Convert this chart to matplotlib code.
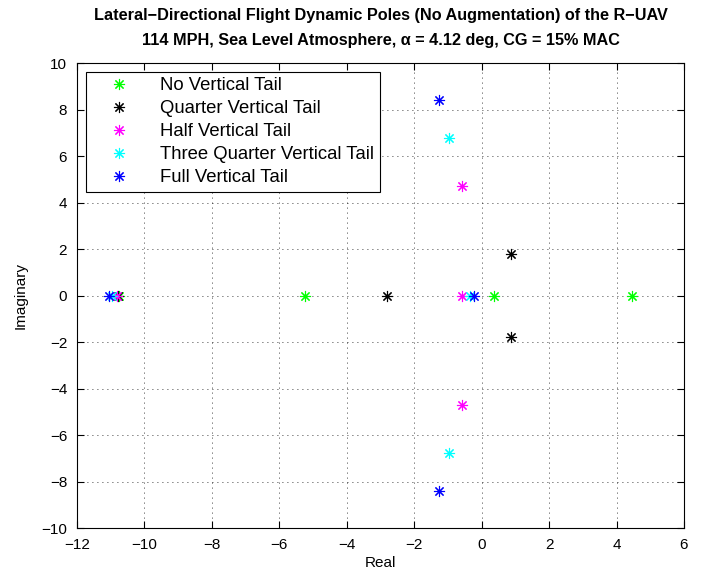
import matplotlib
matplotlib.use("Agg")
import matplotlib.pyplot as plt

plt.rcParams['font.family'] = ['Liberation Sans', 'DejaVu Sans']

# poles (real, imaginary)
labels = ["No Vertical Tail", "Quarter Vertical Tail", "Half Vertical Tail",
          "Three Quarter Vertical Tail", "Full Vertical Tail"]
colors = ["#00ff00", "#000000", "#ff00ff", "#00ffff", "#0000ff"]

no_re = [-10.75, -5.24, 0.36, 4.47]
no_im = [0, 0, 0, 0]
quarter_re = [-10.78, -2.81, 0.86, 0.86]
quarter_im = [0, 0, 1.78, -1.78]
half_re = [-10.80, -0.59, -0.57, -0.57]
half_im = [0, 0, 4.69, -4.69]
three_re = [-10.95, -0.36, -0.97, -0.97]
three_im = [0, 0, 6.79, -6.79]
full_re = [-11.05, -0.24, -1.27, -1.27]
full_im = [0, 0, 8.40, -8.40]

series_re = [no_re, quarter_re, half_re, three_re, full_re]
series_im = [no_im, quarter_im, half_im, three_im, full_im]

fig = plt.figure(figsize=(7.16, 5.81), dpi=100)
ax = fig.add_axes([0.1075, 0.0912, 0.8478, 0.8003])

for re, im, c, lab in zip(series_re, series_im, colors, labels):
    ax.plot(re, im, linestyle='none', marker=(8, 2, 0), markersize=8,
            markeredgewidth=0.8, color=c, label=lab)

ax.set_xlim(-12, 6)
ax.set_ylim(-10, 10)
ax.set_xticks(range(-12, 7, 2))
ax.set_yticks(range(-10, 11, 2))
ax.grid(True, linestyle=(0, (1, 5)), color='black', linewidth=0.6)
ax.tick_params(direction='in', top=True, right=True, labelsize=11, length=5)
ax.tick_params(axis='x', pad=7)
ax.tick_params(axis='y', pad=7)
for s in ax.spines.values():
    s.set_linewidth(0.8)

ax.set_xlabel("Real", fontsize=11, labelpad=3)
ax.set_ylabel("Imaginary", fontsize=11, labelpad=10)
ax.set_title("Lateral\u2212Directional Flight Dynamic Poles (No Augmentation) of the R\u2212UAV\n"
             "114 MPH, Sea Level Atmosphere, \u03b1 = 4.12 deg, CG = 15% MAC",
             fontsize=11.7, fontweight='bold', pad=13, linespacing=1.85)

leg = ax.legend(loc='upper left', bbox_to_anchor=(0.015, 0.981), borderaxespad=0,
                fontsize=13.3, fancybox=False, framealpha=1, edgecolor='black',
                handlelength=3.0, handletextpad=0.7, labelspacing=0.32,
                borderpad=0.3)
leg.get_frame().set_linewidth(0.8)

fig.savefig("out.png", dpi=100)
